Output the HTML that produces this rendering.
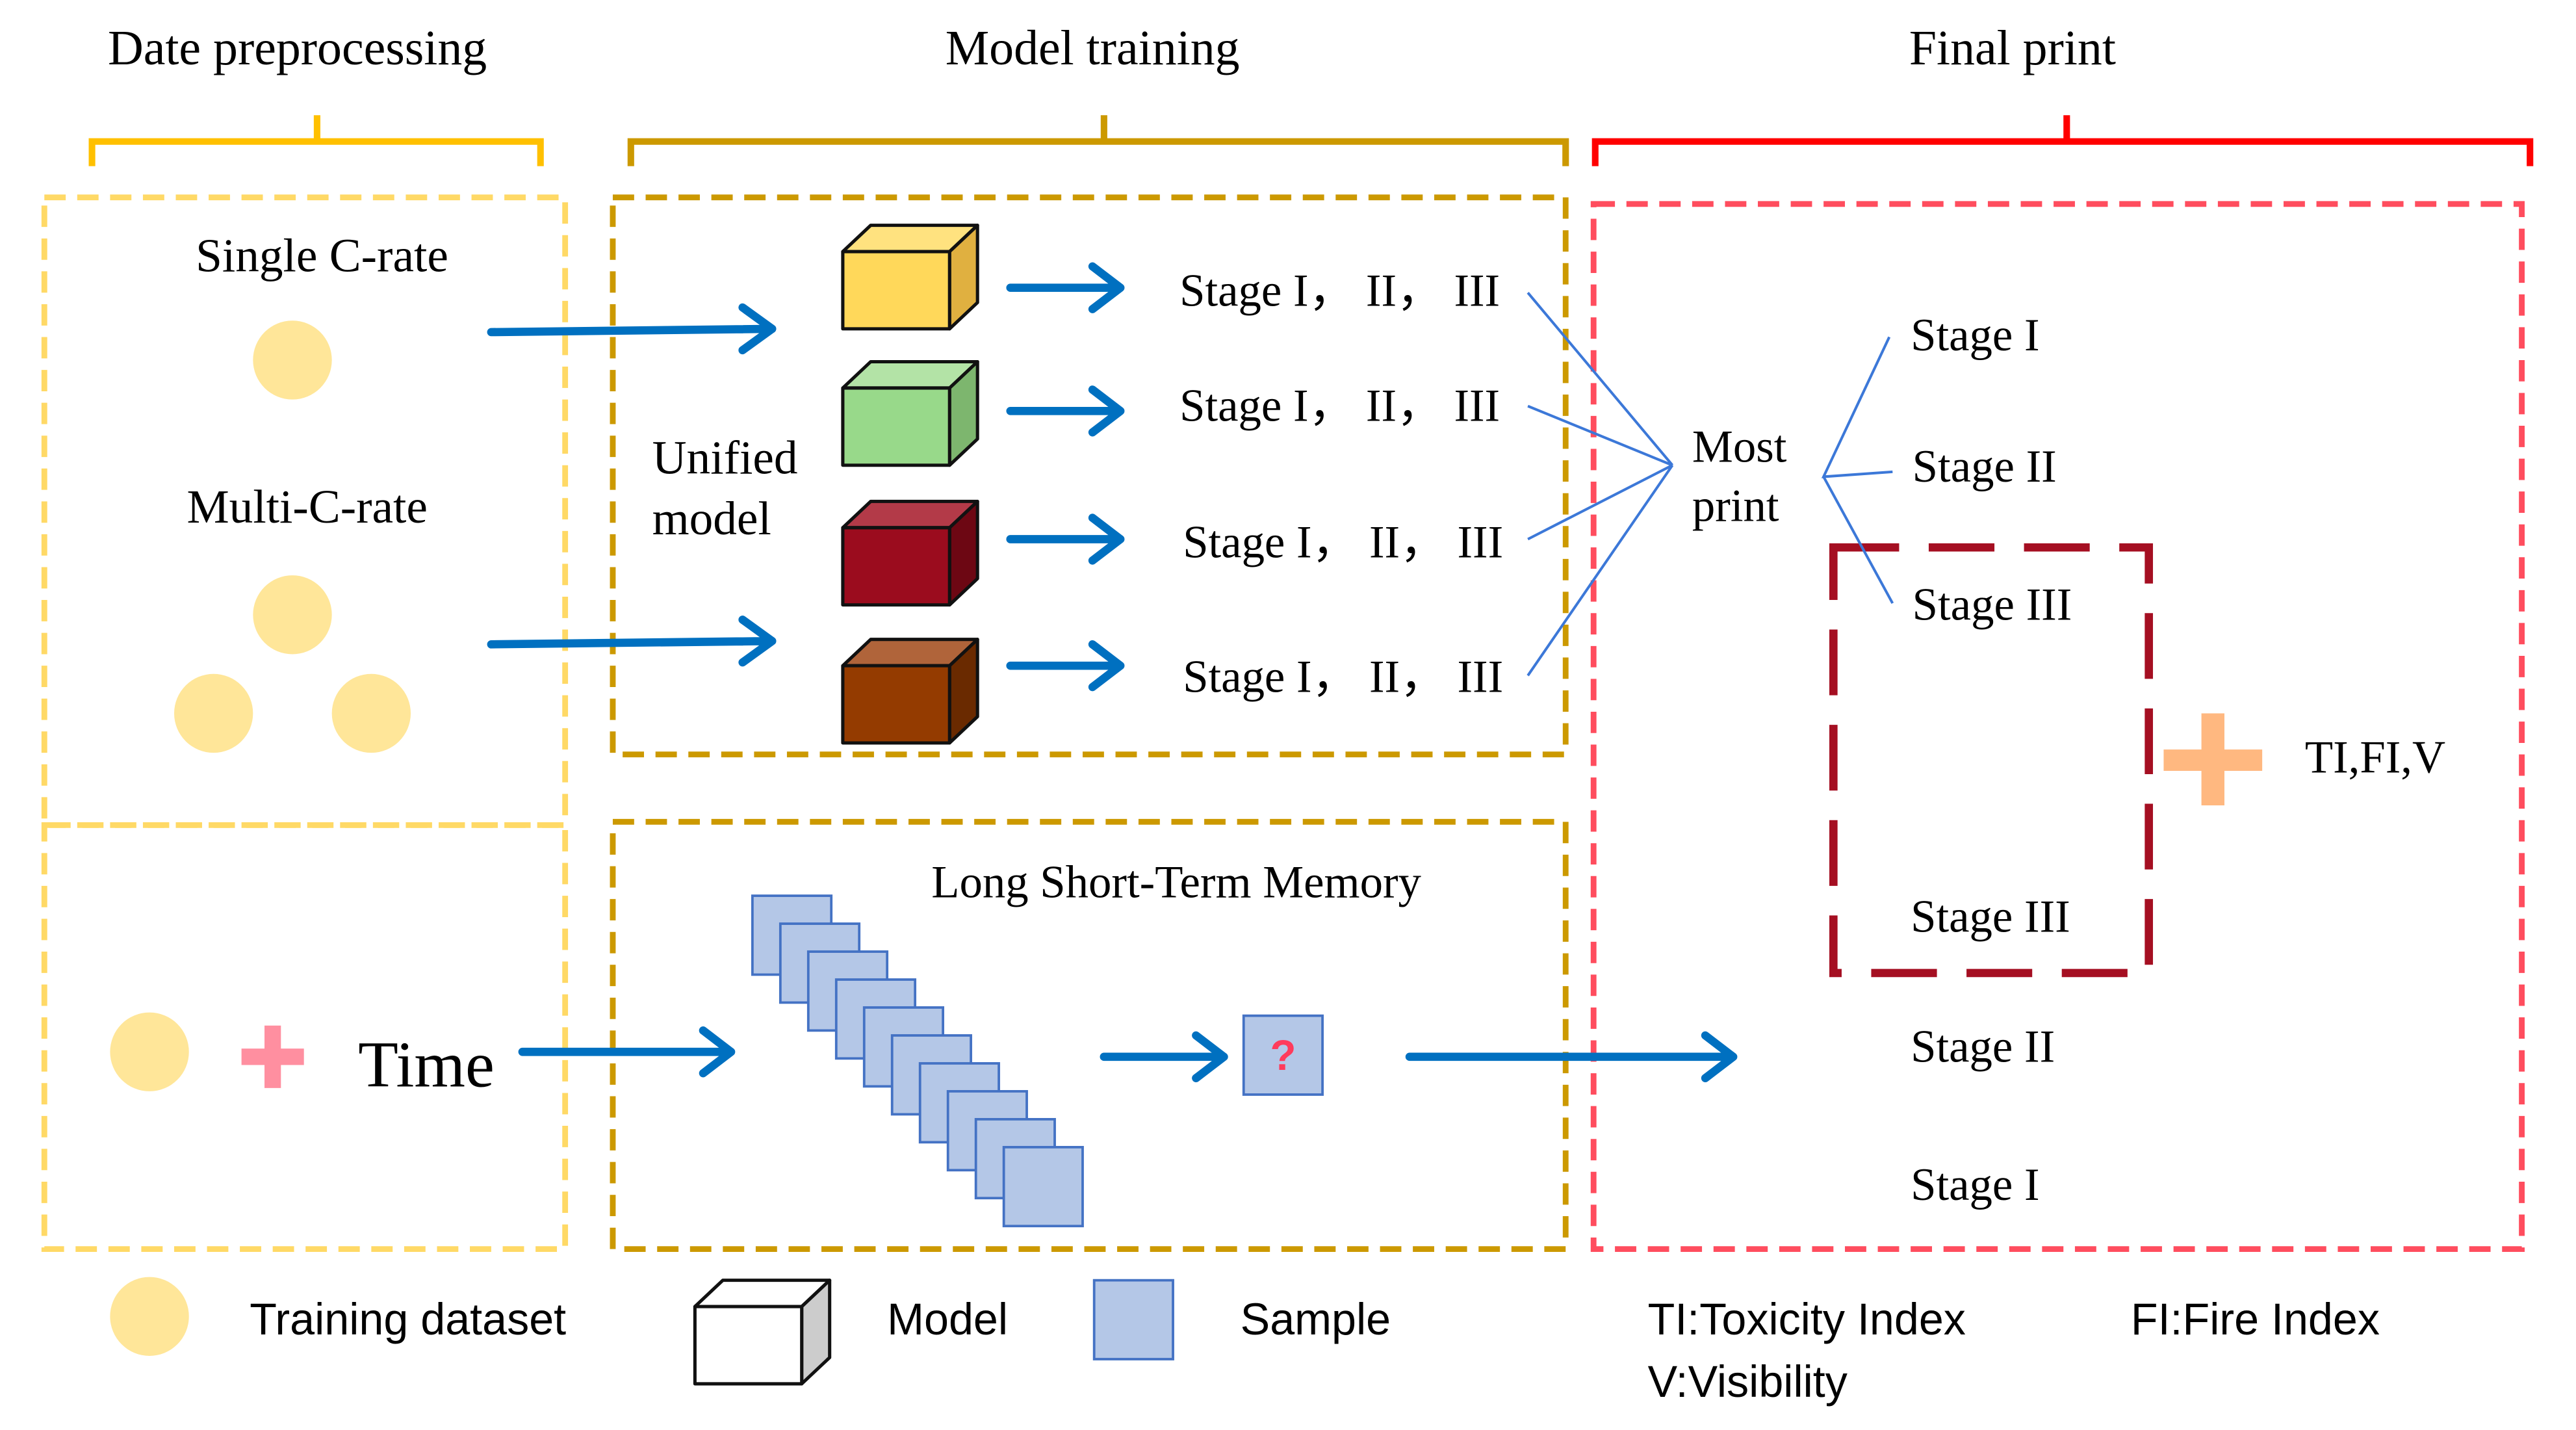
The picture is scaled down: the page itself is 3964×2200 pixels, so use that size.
<!DOCTYPE html>
<html><head><meta charset="utf-8"><style>html,body{margin:0;padding:0;background:#fff}svg{display:block}</style></head>
<body>
<svg width="3964" height="2200" viewBox="0 0 1568 870" xmlns="http://www.w3.org/2000/svg">
<g font-family="Liberation Serif, serif" fill="#000" font-size="30">
<text x="181" y="39" text-anchor="middle">Date preprocessing</text>
<text x="665" y="39" text-anchor="middle">Model training</text>
<text x="1225" y="39" text-anchor="middle">Final print</text>
</g>
<path d="M56,101 V86 H329 V101 M193,86 V70" fill="none" stroke="#FFC000" stroke-width="4"/>
<path d="M384,101 V86 H953 V101 M672,86 V70" fill="none" stroke="#CC9900" stroke-width="4"/>
<path d="M971,101 V86 H1540 V101 M1258,86 V70" fill="none" stroke="#FF0000" stroke-width="4"/>
<g fill="none" stroke-width="3.5" stroke-dasharray="13 7">
<rect x="27" y="120" width="317" height="382" stroke="#FFD966"/>
<rect x="27" y="502" width="317" height="258" stroke="#FFD966"/>
<rect x="373" y="120" width="580" height="339" stroke="#CC9900"/>
<rect x="373" y="500" width="580" height="260" stroke="#CC9900"/>
<rect x="970" y="124" width="565" height="636" stroke="#FF4D5E"/>
</g>
<rect x="1116" y="333" width="192" height="259" fill="none" stroke="#A50F22" stroke-width="5" stroke-dasharray="40 18"/>
<g fill="#FFE699">
<circle cx="178" cy="219" r="24"/><circle cx="178" cy="374" r="24"/><circle cx="130" cy="434" r="24"/><circle cx="226" cy="434" r="24"/><circle cx="91" cy="640" r="24"/><circle cx="91" cy="801" r="24"/>
</g>
<g font-family="Liberation Serif, serif" font-size="28">
<text x="196" y="165" text-anchor="middle" font-size="29">Single C-rate</text>
<text x="187" y="318" text-anchor="middle" font-size="29">Multi-C-rate</text>
<text x="397" y="288" font-size="29">Unified</text>
<text x="397" y="325" font-size="29">model</text>
<text x="718" y="186" textLength="195">Stage I， II， III</text>
<text x="718" y="256" textLength="195">Stage I， II， III</text>
<text x="720" y="339" textLength="195">Stage I， II， III</text>
<text x="720" y="421" textLength="195">Stage I， II， III</text>
<text x="1030" y="281">Most</text>
<text x="1030" y="317">print</text>
<text x="1163" y="213">Stage I</text>
<text x="1164" y="293">Stage II</text>
<text x="1164" y="377">Stage III</text>
<text x="1163" y="567">Stage III</text>
<text x="1163" y="646">Stage II</text>
<text x="1163" y="730">Stage  I</text>
<text x="1403" y="470">TI,FI,V</text>
<text x="716" y="546" text-anchor="middle">Long Short-Term Memory</text>
<text x="218" y="661" font-size="40">Time</text>
</g>
<g stroke="#111" stroke-width="2" stroke-linejoin="round">
<g><path d="M513,153 L530,137 H595 L578,153 Z" fill="#FFE27F"/><path d="M578,153 L595,137 V184 L578,200 Z" fill="#E0B040"/><rect x="513" y="153" width="65" height="47" fill="#FFD85A"/></g>
<g transform="translate(0,83)"><path d="M513,153 L530,137 H595 L578,153 Z" fill="#B3E3A6"/><path d="M578,153 L595,137 V184 L578,200 Z" fill="#7DB66E"/><rect x="513" y="153" width="65" height="47" fill="#98D98A"/></g>
<g transform="translate(0,168)"><path d="M513,153 L530,137 H595 L578,153 Z" fill="#B33A48"/><path d="M578,153 L595,137 V184 L578,200 Z" fill="#6D0713"/><rect x="513" y="153" width="65" height="47" fill="#9B0C1E"/></g>
<g transform="translate(0,252)"><path d="M513,153 L530,137 H595 L578,153 Z" fill="#B0643A"/><path d="M578,153 L595,137 V184 L578,200 Z" fill="#6A2A00"/><rect x="513" y="153" width="65" height="47" fill="#943B00"/></g>
<g transform="translate(-90,642)"><path d="M513,153 L530,137 H595 L578,153 Z" fill="#fff"/><path d="M578,153 L595,137 V184 L578,200 Z" fill="#ccc"/><rect x="513" y="153" width="65" height="47" fill="#fff"/></g>
</g>
<g fill="none" stroke="#0070C0" stroke-width="5" stroke-linecap="round" stroke-linejoin="round">
<path d="M299,202 L470,200 M452,187 L470,200 L452,213"/>
<path d="M299,392 L470,390 M452,377 L470,390 L452,403"/>
<path d="M615,175 H682 M665,162 L682,175 L665,188"/>
<path d="M615,250 H682 M665,237 L682,250 L665,263"/>
<path d="M615,328 H682 M665,315 L682,328 L665,341"/>
<path d="M615,405 H682 M665,392 L682,405 L665,418"/>
<path d="M318,640 H445 M428,627 L445,640 L428,653"/>
<path d="M672,643 H745 M728,630 L745,643 L728,656"/>
<path d="M858,643 H1055 M1038,630 L1055,643 L1038,656"/>
</g>
<g stroke="#3C78D8" stroke-width="1.6" fill="none">
<path d="M930,178 L1018,283 M930,247 L1018,283 M930,328 L1018,283 M930,411 L1018,283"/>
<path d="M1150,205 L1110,290 L1152,287 M1110,290 L1152,367"/>
</g>
<g fill="#FFB880"><rect x="1317" y="456" width="60" height="13"/><rect x="1340" y="434" width="14" height="56"/></g>
<g fill="#FF8FA0"><rect x="147" y="638" width="38" height="10"/><rect x="161" y="624" width="10" height="38"/></g>
<g fill="#B4C7E7" stroke="#4472C4" stroke-width="1.5">
<rect x="458" y="545" width="48" height="48"/><rect x="475" y="562" width="48" height="48"/><rect x="492" y="579" width="48" height="48"/><rect x="509" y="596" width="48" height="48"/><rect x="526" y="613" width="48" height="48"/><rect x="543" y="630" width="48" height="48"/><rect x="560" y="647" width="48" height="48"/><rect x="577" y="664" width="48" height="48"/><rect x="594" y="681" width="48" height="48"/><rect x="611" y="698" width="48" height="48"/>
<rect x="757" y="618" width="48" height="48"/>
<rect x="666" y="779" width="48" height="48"/>
</g>
<text x="781" y="651" font-family="Liberation Sans, sans-serif" font-size="26" font-weight="bold" fill="#FF3B5C" text-anchor="middle">?</text>
<g font-family="Liberation Sans, sans-serif" font-size="27">
<text x="152" y="812">Training dataset</text>
<text x="540" y="812">Model</text>
<text x="755" y="812">Sample</text>
<text x="1003" y="812">TI:Toxicity Index</text>
<text x="1297" y="812">FI:Fire Index</text>
<text x="1003" y="850">V:Visibility</text>
</g>
</svg>
</body></html>
